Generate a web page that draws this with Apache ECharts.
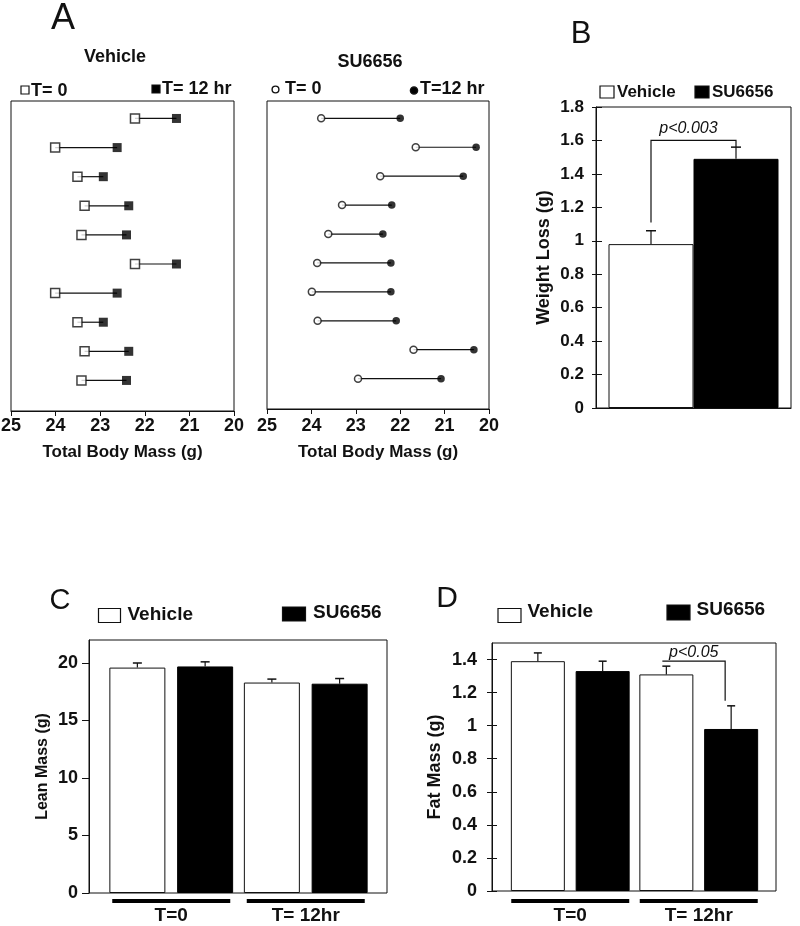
<!DOCTYPE html>
<html><head><meta charset="utf-8">
<script src="https://cdn.jsdelivr.net/npm/echarts@6/dist/echarts.min.js"></script>
<style>html,body{margin:0;padding:0;background:#fff}#c{width:800px;height:926px}</style>
</head><body><div id="c"></div>
<script>
// ---------- DATA ----------
const rowIds = [1, 2, 3, 4, 5, 6, 7, 8, 9, 10];
const vehT0  = [22.22, 24.01, 23.51, 23.35, 23.42, 22.22, 24.01, 23.51, 23.35, 23.42];
const vehT12 = [21.29, 22.62, 22.93, 22.36, 22.41, 21.29, 22.62, 22.93, 22.36, 22.41];
const suT0   = [23.78, 21.65, 22.45, 23.31, 23.62, 23.87, 23.99, 23.86, 21.70, 22.95];
const suT12  = [22.00, 20.29, 20.58, 22.19, 22.39, 22.21, 22.21, 22.09, 20.34, 21.08];

const lossMean = [0.98, 1.49];       // Vehicle, SU6656
const lossErr  = [0.08, 0.07];
const lossBracket = [1.11, 1.60];    // bracket start (over vehicle), bracket top

const timeCats = ['T=0', 'T= 12hr'];
const leanVeh = [19.6, 18.3];
const leanVehErr = [0.4, 0.3];
const leanSU = [19.7, 18.2];
const leanSUErr = [0.4, 0.45];
const leanTicks = [0, 5, 10, 15, 20];

const fatVeh = [1.39, 1.31];
const fatVehErr = [0.05, 0.05];
const fatSU = [1.33, 0.98];
const fatSUErr = [0.06, 0.14];
const fatTicks = [0, 0.2, 0.4, 0.6, 0.8, 1, 1.2, 1.4];
const fatBracket = [1.39, 1.15];     // bracket top, bracket end (over SU6656 T=12hr)

// ---------- STYLE ----------
const FF = "'Liberation Sans', Arial, Helvetica, sans-serif";
const INK = '#111';
const chart = echarts.init(document.getElementById('c'), null, {renderer: 'canvas'});

function gtext(x, y, s, size, weight, align, style) {
  return {type: 'text', x: x, y: y, silent: true, style: {
    text: s, fill: INK, font: (style || 'normal') + ' ' + (weight || 'bold') + ' ' + size + 'px ' + FF,
    align: align || 'left', verticalAlign: 'middle', textAlign: align || 'left', textVerticalAlign: 'middle'}};
}
function grect(x, y, w, h, fill) {
  return {type: 'rect', silent: true, shape: {x: x, y: y, width: w, height: h},
    style: {fill: fill, stroke: INK, lineWidth: 1.2}};
}
function gcircle(cx, cy, r, fill) {
  return {type: 'circle', silent: true, shape: {cx: cx, cy: cy, r: r},
    style: {fill: fill, stroke: INK, lineWidth: 1.4}};
}

function connector(t0, t12) {
  return {
    type: 'custom', silent: true, z: 1,
    data: rowIds.map((r, i) => [t0[i], t12[i], r]),
    encode: {x: [0, 1], y: 2},
    renderItem: (p, api) => {
      const a = api.coord([api.value(0), api.value(2)]);
      const b = api.coord([api.value(1), api.value(2)]);
      return {type: 'line', shape: {x1: a[0], y1: a[1], x2: b[0], y2: b[1]},
        style: {stroke: INK, lineWidth: 1.2}};
    }
  };
}
function errBars(means, errs, offsetPx, cap) {
  return {
    type: 'custom', silent: true, z: 5,
    data: means.map((m, i) => [i, m, m + errs[i]]),
    encode: {x: 0, y: [1, 2]},
    renderItem: (p, api) => {
      const a = api.coord([api.value(0), api.value(1)]);
      const b = api.coord([api.value(0), api.value(2)]);
      const cx = a[0] + offsetPx;
      return {type: 'group', children: [
        {type: 'line', shape: {x1: cx, y1: a[1], x2: cx, y2: b[1]}, style: {stroke: INK, lineWidth: 1.2}},
        {type: 'line', shape: {x1: cx - cap / 2, y1: b[1], x2: cx + cap / 2, y2: b[1]}, style: {stroke: INK, lineWidth: 1.5}}
      ]};
    }
  };
}

const axisLabelBold = (size, margin) => ({color: INK, fontWeight: 'bold', fontSize: size, fontFamily: FF, margin: margin});
const blackLine = {show: true, lineStyle: {color: INK, width: 1}};
const frameGrid = (l, t, w, h) => ({left: l, top: t, width: w, height: h, show: true, borderColor: INK, borderWidth: 1,
  backgroundColor: 'transparent', containLabel: false, outerBoundsMode: 'none'});
const plainGrid = (l, t, w, h) => ({left: l, top: t, width: w, height: h, show: false, containLabel: false, outerBoundsMode: 'none'});

const underlineLabel = (size, margin) => ({
  interval: 0, margin: margin, color: INK,
  formatter: v => '{u|}\n{t|' + v + '}',
  rich: {
    u: {width: 118, height: 4, backgroundColor: '#000', align: 'center'},
    t: {fontSize: size, fontWeight: 'bold', fontFamily: FF, color: INK, lineHeight: 22, padding: [3, 0, 0, 0], align: 'center'}
  }
});

// bar geometry
const B_BW = 85, C_BW = 56, C_GAP = 0.21, D_BW = 54, D_GAP = 0.20;
const cOff = C_BW * (1 + C_GAP) / 2, dOff = D_BW * (1 + D_GAP) / 2;

const option = {
  animation: false,
  backgroundColor: '#fff',
  textStyle: {fontFamily: FF},
  grid: [
    frameGrid(11, 101, 223, 310),   // 0 A vehicle
    frameGrid(267, 101, 222, 308),  // 1 A SU6656
    frameGrid(596, 107, 195, 301),  // 2 B
    frameGrid(89, 640, 298, 253),   // 3 C frame
    plainGrid(104, 640, 269, 253),  // 4 C bars
    frameGrid(492, 643, 284, 248),  // 5 D frame
    plainGrid(506, 643, 257, 248)   // 6 D bars
  ],
  xAxis: [
    {gridIndex: 0, type: 'value', min: 20, max: 25, interval: 1, inverse: true, axisLine: blackLine,
     axisTick: {show: true, length: 5, lineStyle: {color: INK}}, splitLine: {show: false},
     axisLabel: axisLabelBold(18, 6),
     name: 'Total Body Mass (g)', nameLocation: 'middle', nameGap: 33,
     nameTextStyle: {color: INK, fontWeight: 'bold', fontSize: 17, fontFamily: FF}},
    {gridIndex: 1, type: 'value', min: 20, max: 25, interval: 1, inverse: true, axisLine: blackLine,
     axisTick: {show: true, length: 5, lineStyle: {color: INK}}, splitLine: {show: false},
     axisLabel: axisLabelBold(18, 8),
     name: 'Total Body Mass (g)', nameLocation: 'middle', nameGap: 35,
     nameTextStyle: {color: INK, fontWeight: 'bold', fontSize: 17, fontFamily: FF}},
    {gridIndex: 2, type: 'category', data: [''], axisLine: blackLine, axisTick: {show: false}, axisLabel: {show: false}},
    {gridIndex: 3, type: 'category', data: [''], show: false},
    {gridIndex: 4, type: 'category', data: timeCats, axisLine: {show: false}, axisTick: {show: false},
     axisLabel: underlineLabel(19, 6)},
    {gridIndex: 5, type: 'category', data: [''], show: false},
    {gridIndex: 6, type: 'category', data: timeCats, axisLine: {show: false}, axisTick: {show: false},
     axisLabel: underlineLabel(19, 8)}
  ],
  yAxis: [
    {gridIndex: 0, type: 'value', min: 0.4, max: 11.05, inverse: true, show: false},
    {gridIndex: 1, type: 'value', min: 0.4, max: 11.05, inverse: true, show: false},
    {gridIndex: 2, type: 'value', position: 'left', min: 0, max: 1.8, interval: 0.2, axisLine: blackLine,
     axisTick: {show: true, length: 4, lineStyle: {color: INK}}, splitLine: {show: false},
     axisLabel: axisLabelBold(17, 12),
     name: 'Weight Loss (g)', nameLocation: 'middle', nameRotate: 90, nameGap: 43,
     nameTextStyle: {color: INK, fontWeight: 'bold', fontSize: 18, fontFamily: FF}},
    {gridIndex: 2, type: 'value', position: 'left', min: 0, max: 1.8, interval: 0.2, axisLine: {show: false},
     axisTick: {show: true, inside: true, length: 6, lineStyle: {color: INK}}, axisLabel: {show: false}, splitLine: {show: false}},
    {gridIndex: 3, type: 'value', position: 'left', min: 0, max: 22, interval: 5, axisLine: blackLine,
     axisTick: {show: true, length: 7, customValues: leanTicks, lineStyle: {color: INK}}, splitLine: {show: false},
     axisLabel: Object.assign(axisLabelBold(18, 11), {customValues: leanTicks, formatter: v => (v > 20 ? '' : v)}),
     name: 'Lean Mass (g)', nameLocation: 'middle', nameRotate: 90, nameGap: 38,
     nameTextStyle: {color: INK, fontWeight: 'bold', fontSize: 16, fontFamily: FF}},
    {gridIndex: 4, type: 'value', min: 0, max: 22, show: false},
    {gridIndex: 5, type: 'value', position: 'left', min: 0, max: 1.5, interval: 0.2, axisLine: blackLine,
     axisTick: {show: true, length: 5, customValues: fatTicks, lineStyle: {color: INK}}, splitLine: {show: false},
     axisLabel: Object.assign(axisLabelBold(18, 15), {customValues: fatTicks, formatter: v => (v > 1.45 ? '' : v)}),
     name: 'Fat Mass (g)', nameLocation: 'middle', nameRotate: 90, nameGap: 48,
     nameTextStyle: {color: INK, fontWeight: 'bold', fontSize: 18, fontFamily: FF}},
    {gridIndex: 5, type: 'value', position: 'left', min: 0, max: 1.5, interval: 0.2, axisLine: {show: false},
     axisTick: {show: true, inside: true, length: 5, customValues: fatTicks, lineStyle: {color: INK}},
     axisLabel: {show: false}, splitLine: {show: false}},
    {gridIndex: 6, type: 'value', min: 0, max: 1.5, show: false}
  ],
  series: [
    // ---- A: Vehicle ----
    Object.assign(connector(vehT0, vehT12), {xAxisIndex: 0, yAxisIndex: 0}),
    {type: 'scatter', name: 'T= 0', xAxisIndex: 0, yAxisIndex: 0, z: 3, symbol: 'rect', symbolSize: 9,
     data: rowIds.map((r, i) => [vehT0[i], r]), itemStyle: {color: '#fff', borderColor: INK, borderWidth: 1.5}},
    {type: 'scatter', name: 'T= 12 hr', xAxisIndex: 0, yAxisIndex: 0, z: 3, symbol: 'rect', symbolSize: 9,
     data: rowIds.map((r, i) => [vehT12[i], r]), itemStyle: {color: '#000'}},
    // ---- A: SU6656 ----
    Object.assign(connector(suT0, suT12), {xAxisIndex: 1, yAxisIndex: 1}),
    {type: 'scatter', name: 'T= 0', xAxisIndex: 1, yAxisIndex: 1, z: 3, symbol: 'circle', symbolSize: 7,
     data: rowIds.map((r, i) => [suT0[i], r]), itemStyle: {color: '#fff', borderColor: INK, borderWidth: 1.5}},
    {type: 'scatter', name: 'T=12 hr', xAxisIndex: 1, yAxisIndex: 1, z: 3, symbol: 'circle', symbolSize: 7.5,
     data: rowIds.map((r, i) => [suT12[i], r]), itemStyle: {color: '#000'}},
    // ---- B ----
    {type: 'bar', name: 'Vehicle', xAxisIndex: 2, yAxisIndex: 2, barWidth: B_BW, barGap: '0%', data: [lossMean[0]],
     itemStyle: {color: '#fff', borderColor: INK, borderWidth: 1}},
    {type: 'bar', name: 'SU6656', xAxisIndex: 2, yAxisIndex: 2, barWidth: B_BW, barGap: '0%', data: [lossMean[1]],
     itemStyle: {color: '#000', borderColor: '#000', borderWidth: 1}},
    Object.assign(errBars([lossMean[0]], [lossErr[0]], -B_BW / 2, 10), {xAxisIndex: 2, yAxisIndex: 2}),
    Object.assign(errBars([lossMean[1]], [lossErr[1]], B_BW / 2, 10), {xAxisIndex: 2, yAxisIndex: 2}),
    {type: 'custom', xAxisIndex: 2, yAxisIndex: 2, silent: true, z: 6,
     data: [[0, lossBracket[0], lossBracket[1], lossMean[1] + lossErr[1]]], encode: {x: 0, y: [1, 2, 3]},
     renderItem: (p, api) => {
       const lo = api.coord([api.value(0), api.value(1)]);
       const top = api.coord([api.value(0), api.value(2)]);
       const end = api.coord([api.value(0), api.value(3)]);
       const xl = lo[0] - B_BW / 2, xr = lo[0] + B_BW / 2;
       return {type: 'group', children: [
         {type: 'polyline', shape: {points: [[xl, lo[1]], [xl, top[1]], [xr, top[1]], [xr, end[1]]]},
          style: {stroke: INK, lineWidth: 1.2, fill: null}},
         {type: 'text', style: {text: 'p<0.003', x: (xl + xr) / 2 - 5, y: top[1] - 4, align: 'center', verticalAlign: 'bottom',
           font: 'italic normal 16px ' + FF, fill: INK}}
       ]};
     }},
    // ---- C ----
    {type: 'bar', name: 'Vehicle', xAxisIndex: 4, yAxisIndex: 5, barWidth: C_BW, barGap: (C_GAP * 100) + '%', data: leanVeh,
     itemStyle: {color: '#fff', borderColor: INK, borderWidth: 1}},
    {type: 'bar', name: 'SU6656', xAxisIndex: 4, yAxisIndex: 5, barWidth: C_BW, barGap: (C_GAP * 100) + '%', data: leanSU,
     itemStyle: {color: '#000', borderColor: '#000', borderWidth: 1}},
    Object.assign(errBars(leanVeh, leanVehErr, -cOff, 9), {xAxisIndex: 4, yAxisIndex: 5}),
    Object.assign(errBars(leanSU, leanSUErr, cOff, 9), {xAxisIndex: 4, yAxisIndex: 5}),
    // ---- D ----
    {type: 'bar', name: 'Vehicle', xAxisIndex: 6, yAxisIndex: 8, barWidth: D_BW, barGap: (D_GAP * 100) + '%', data: fatVeh,
     itemStyle: {color: '#fff', borderColor: INK, borderWidth: 1}},
    {type: 'bar', name: 'SU6656', xAxisIndex: 6, yAxisIndex: 8, barWidth: D_BW, barGap: (D_GAP * 100) + '%', data: fatSU,
     itemStyle: {color: '#000', borderColor: '#000', borderWidth: 1}},
    Object.assign(errBars(fatVeh, fatVehErr, -dOff, 8), {xAxisIndex: 6, yAxisIndex: 8}),
    Object.assign(errBars(fatSU, fatSUErr, dOff, 8), {xAxisIndex: 6, yAxisIndex: 8}),
    {type: 'custom', xAxisIndex: 6, yAxisIndex: 8, silent: true, z: 6,
     data: [[1, fatBracket[0], fatBracket[1]]], encode: {x: 0, y: [1, 2]},
     renderItem: (p, api) => {
       const top = api.coord([api.value(0), api.value(1)]);
       const end = api.coord([api.value(0), api.value(2)]);
       const xl = top[0] - dOff - 4, xr = top[0] + dOff - 6;
       return {type: 'group', children: [
         {type: 'polyline', shape: {points: [[xl, top[1]], [xr, top[1]], [xr, end[1]]]},
          style: {stroke: INK, lineWidth: 1.2, fill: null}},
         {type: 'text', style: {text: 'p<0.05', x: (xl + xr) / 2, y: top[1] - 1, align: 'center', verticalAlign: 'bottom',
           font: 'italic normal 16px ' + FF, fill: INK}}
       ]};
     }}
  ],
  graphic: [
    // panel letters
    gtext(63, 19, 'A', 36, 'normal', 'center'),
    gtext(581, 34, 'B', 31, 'normal', 'center'),
    gtext(60, 601, 'C', 29, 'normal', 'center'),
    gtext(447, 599, 'D', 30, 'normal', 'center'),
    // A titles
    gtext(115, 57, 'Vehicle', 18, 'bold', 'center'),
    gtext(370, 62, 'SU6656', 18, 'bold', 'center'),
    // A legends
    grect(21, 86, 8, 8, '#fff'), gtext(31, 91, 'T= 0', 18, 'bold'),
    grect(152, 85, 8, 8, '#000'), gtext(162, 89, 'T= 12 hr', 18, 'bold'),
    gcircle(275.5, 89.5, 3.4, '#fff'), gtext(285, 89, 'T= 0', 18, 'bold'),
    gcircle(414, 90.5, 3.6, '#000'), gtext(420, 89, 'T=12 hr', 18, 'bold'),
    // B legend
    grect(600, 86, 14, 12, '#fff'), gtext(617, 92, 'Vehicle', 17, 'bold'),
    grect(695, 86, 14, 12, '#000'), gtext(712, 92, 'SU6656', 17, 'bold'),
    // C legend
    grect(98.5, 608.5, 22, 14, '#fff'), gtext(127.5, 615, 'Vehicle', 19, 'bold'),
    grect(282.5, 607, 23, 14, '#000'), gtext(313, 613, 'SU6656', 19, 'bold'),
    // D legend
    grect(498, 608.5, 23, 14, '#fff'), gtext(527.5, 612, 'Vehicle', 19, 'bold'),
    grect(667, 605, 23, 15, '#000'), gtext(696.5, 610, 'SU6656', 19, 'bold')
  ]
};
chart.setOption(option);
</script>
</body></html>
